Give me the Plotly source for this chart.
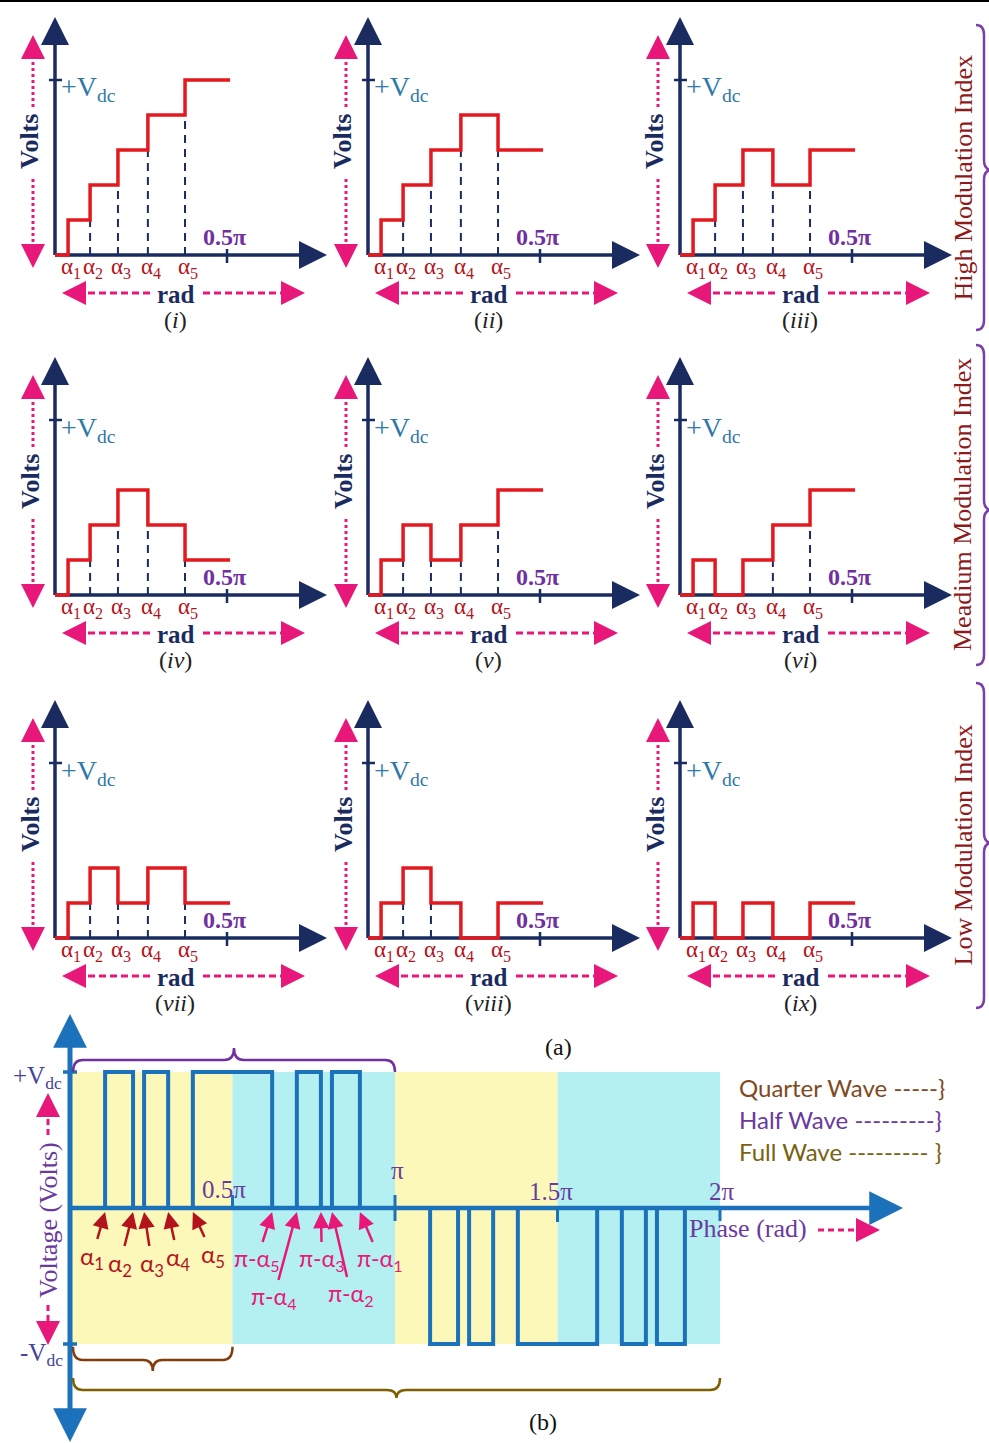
import plotly.graph_objects as go

W, H = 989, 1443

SERIF = "Liberation Serif, Times New Roman, serif"
SANS = "Lato, Open Sans, sans-serif"

NAVY = "#1A2B5F"
RED = "#E3191F"
DARKRED = "#B3141C"
PINK = "#E8187A"
PURPLE = "#7030A0"
STEEL = "#2F78A8"
BLUE = "#1C72BA"
YELLOW = "#FBF8BA"
CYAN = "#B4F0F2"
BAND_RED = "#8E1B1B"
BRACE_PURPLE = "#7A3FA8"

# ---------------- data: staircase panels (a) ----------------
panel_names = ["i", "ii", "iii", "iv", "v", "vi", "vii", "viii", "ix"]
levels_i = [0, 1, 2, 3, 4, 5]
levels_ii = [0, 1, 2, 3, 4, 3]
levels_iii = [0, 1, 2, 3, 2, 3]
levels_iv = [0, 1, 2, 3, 2, 1]
levels_v = [0, 1, 2, 1, 2, 3]
levels_vi = [0, 1, 0, 1, 2, 3]
levels_vii = [0, 1, 2, 1, 2, 1]
levels_viii = [0, 1, 2, 1, 0, 1]
levels_ix = [0, 1, 0, 1, 0, 1]
panel_levels = [levels_i, levels_ii, levels_iii, levels_iv, levels_v,
                levels_vi, levels_vii, levels_viii, levels_ix]
step_alpha = [0.038, 0.102, 0.183, 0.270, 0.378]   # switching angles, units of pi
step_end = 0.509
quarter_tick = 0.5
vdc_level = 5
band_labels = ["High Modulation Index", "Meadium Modulation Index", "Low Modulation Index"]

# ---------------- data: PWM waveform (b) ----------------
pwm_alpha = [0.108, 0.194, 0.228, 0.302, 0.378]    # units of pi
phase_ticks = [0.5, 1.0, 1.5, 2.0]
phase_tick_text = ["0.5π", "π", "1.5π", "2π"]
legend_text = ["Quarter Wave -----}", "Half Wave ---------}", "Full Wave --------- }"]
legend_colors = ["#7F4A1E", "#6A3A9C", "#7A6212"]

# ---------------- helpers ----------------
layout_axes = {}
shapes = []
annots = []
traces = []


def seg(xr, yr, x0, y0, x1, y1, color, width, dash="solid", layer="above"):
    shapes.append(dict(type="line", xref=xr, yref=yr, x0=x0, y0=y0, x1=x1, y1=y1,
                       line=dict(color=color, width=width, dash=dash), layer=layer))


def head(xr, yr, x, y, dxp, dyp, color, width=3, size=1.6):
    annots.append(dict(xref=xr, yref=yr, x=x, y=y, ax=dxp, ay=dyp, text="",
                       showarrow=True, arrowhead=2, arrowsize=size,
                       arrowwidth=width, arrowcolor=color))


def label(xr, yr, x, y, text, size, color, family=SERIF, **kw):
    kw.setdefault("xanchor", "center")
    kw.setdefault("yanchor", "middle")
    annots.append(dict(xref=xr, yref=yr, x=x, y=y, text=text, showarrow=False,
                       font=dict(family=family, size=size, color=color), **kw))


# ---------------- staircase panels ----------------
col_x = [55, 368, 680]
row_y = [255, 595, 938]
SX = 344.0   # pixels per pi
SY = 35.0    # pixels per level

for k, (name, lv) in enumerate(zip(panel_names, panel_levels)):
    r, c = divmod(k, 3)
    ox, oy = col_x[c], row_y[r]
    px0, px1 = ox - 52, ox + 292
    py0, py1 = oy - 250, oy + 78
    sid = "" if k == 0 else str(k + 1)
    xr, yr = "x" + sid, "y" + sid
    layout_axes["xaxis" + sid] = dict(domain=[px0 / W, px1 / W],
                                      range=[(px0 - ox) / SX, (px1 - ox) / SX],
                                      visible=False, fixedrange=True, anchor=yr)
    layout_axes["yaxis" + sid] = dict(domain=[1 - py1 / H, 1 - py0 / H],
                                      range=[(oy - py1) / SY, (oy - py0) / SY],
                                      visible=False, fixedrange=True, anchor=xr)
    px = lambda v: v / SX
    py = lambda v: v / SY

    # axes
    seg(xr, yr, 0, 0, 0, py(222), NAVY, 3.5, layer="below")
    head(xr, yr, 0, py(238), 0, 20, NAVY, 3.5, 1.6)
    seg(xr, yr, 0, 0, px(256), 0, NAVY, 3.5, layer="below")
    head(xr, yr, px(272), 0, -20, 0, NAVY, 3.5, 1.6)

    # +Vdc tick and label
    seg(xr, yr, px(-6), vdc_level, px(7), vdc_level, NAVY, 2.5)
    label(xr, yr, px(4), vdc_level, "+V<sub>dc</sub>", 28, STEEL,
          xanchor="left", yshift=-9)

    # 0.5 pi tick and label
    seg(xr, yr, quarter_tick, py(-8), quarter_tick, py(6), NAVY, 2.5)
    label(xr, yr, quarter_tick - px(3), py(18), "<b>0.5π</b>", 24, PURPLE)

    # dashed guides under each step edge
    for i in range(1, 5):
        h = min(lv[i], lv[i + 1])
        if h > 0:
            seg(xr, yr, step_alpha[i], 0, step_alpha[i], h, NAVY, 2,
                dash="8px,6px", layer="below")

    # staircase
    xs = [0.0] + step_alpha + [step_end]
    ys = lv + [lv[-1]]
    traces.append(go.Scatter(x=xs, y=ys, xaxis=xr, yaxis=yr, mode="lines",
                             line=dict(shape="hv", color=RED, width=3.5),
                             hoverinfo="skip", showlegend=False))

    # alpha labels
    for i, a in enumerate(step_alpha):
        label(xr, yr, a, py(-13), f"α<sub>{i + 1}</sub>", 23, DARKRED, xshift=3)

    # rad label with dashed arrows
    label(xr, yr, px(121), py(-39), "<b>rad</b>", 25, NAVY)
    seg(xr, yr, px(95), py(-38), px(18), py(-38), PINK, 3, dash="7px,4px")
    head(xr, yr, px(7), py(-38), 14, 0, PINK, 3, 1.6)
    seg(xr, yr, px(148), py(-38), px(240), py(-38), PINK, 3, dash="7px,4px")
    head(xr, yr, px(250), py(-38), -14, 0, PINK, 3, 1.6)

    # Volts label with dotted arrows
    label(xr, yr, px(-25), py(113), "<b>Volts</b>", 26, NAVY, textangle=-90)
    seg(xr, yr, px(-22), py(148), px(-22), py(208), PINK, 3, dash="dot")
    head(xr, yr, px(-22), py(220), 0, 14, PINK, 3, 1.6)
    seg(xr, yr, px(-22), py(76), px(-22), py(-2), PINK, 3, dash="dot")
    head(xr, yr, px(-22), py(-13), 0, -14, PINK, 3, 1.6)

    # panel caption
    label(xr, yr, px(120), py(-65), f"(<i>{name}</i>)", 24, "#222222")

# ---------------- modulation-index bands on the right ----------------
band_spans = [(25, 330, 170), (345, 665, 510), (683, 1008, 843)]
for text, (y0, y1, ym) in zip(band_labels, band_spans):
    annots.append(dict(xref="paper", yref="paper", x=963 / W, y=1 - (y0 + y1) / 2 / H,
                       xanchor="center", yanchor="middle",
                       text=text, showarrow=False, textangle=-90,
                       font=dict(family=SERIF, size=26, color=BAND_RED)))
    xe, xb, xt = 976 / W, 984 / W, 992 / W
    Y = lambda v: 1 - v / H
    rr = 10
    path = (f"M {xe},{Y(y0)} Q {xb},{Y(y0)} {xb},{Y(y0 + rr)} "
            f"L {xb},{Y(ym - rr)} Q {xb},{Y(ym)} {xt},{Y(ym)} "
            f"Q {xb},{Y(ym)} {xb},{Y(ym + rr)} L {xb},{Y(y1 - rr)} "
            f"Q {xb},{Y(y1)} {xe},{Y(y1)}")
    shapes.append(dict(type="path", xref="paper", yref="paper", path=path,
                       line=dict(color=BRACE_PURPLE, width=2.5)))

# ---------------- PWM waveform panel (b) ----------------
OXB, OYB = 70, 1208
SXB, SYB = 325.0, 136.0
bx, by = "x10", "y10"
layout_axes["xaxis10"] = dict(domain=[0, 1], range=[-OXB / SXB, (W - OXB) / SXB],
                              visible=False, fixedrange=True, anchor=by)
layout_axes["yaxis10"] = dict(domain=[0, 1 - 1010 / H],
                              range=[(OYB - H) / SYB, (OYB - 1010) / SYB],
                              visible=False, fixedrange=True, anchor=bx)
qx = lambda v: v / SXB
qy = lambda v: v / SYB

# quarter-period shading
for i in range(4):
    shapes.append(dict(type="rect", xref=bx, yref=by, x0=0.5 * i, x1=0.5 * (i + 1),
                       y0=-1, y1=1, fillcolor=YELLOW if i % 2 == 0 else CYAN,
                       line=dict(width=0), layer="below"))

# axes
seg(bx, by, 0, qy(-218), 0, qy(180), BLUE, 5, layer="below")
head(bx, by, 0, qy(194), 0, 20, BLUE, 4.5, 1.5)
head(bx, by, 0, qy(-234), 0, -20, BLUE, 4.5, 1.5)
seg(bx, by, 0, 0, qx(815), 0, BLUE, 4.5, layer="below")
head(bx, by, qx(833), 0, -22, 0, BLUE, 4.5, 1.5)
for yv in (1, -1):
    seg(bx, by, qx(-7), yv, qx(7), yv, BLUE, 3.5)

# phase ticks
tick_ext = [(0, 13), (-13, 13), (-14, 0), (-13, 0)]
tick_lbl_y = [19, 38, 17, 17]
tick_lbl_dx = [-9, 2, -7, 2]
for t, txt, (e0, e1), ly, ldx in zip(phase_ticks, phase_tick_text, tick_ext,
                                      tick_lbl_y, tick_lbl_dx):
    seg(bx, by, t, qy(e0), t, qy(e1), BLUE, 3)
    label(bx, by, t + qx(ldx), qy(ly), txt, 25, "#6A3A9C")

# waveform: quarter-wave symmetric switching pattern
half_edges = pwm_alpha + [1 - a for a in reversed(pwm_alpha)]
wx, wy = [0.0], [0]
for i, e in enumerate(half_edges):
    wx.append(e)
    wy.append(1 if i % 2 == 0 else 0)
for i, e in enumerate(half_edges):
    wx.append(1 + e)
    wy.append(-1 if i % 2 == 0 else 0)
wx.append(2.0)
wy.append(0)
traces.append(go.Scatter(x=wx, y=wy, xaxis=bx, yaxis=by, mode="lines",
                         line=dict(shape="hv", color=BLUE, width=4),
                         hoverinfo="skip", showlegend=False))

# switching-angle callouts
alpha_off = [(-13, 45), (-13, 52), (8, 52), (10, 46), (20, 43)]
for i, (a, (dxp, dyp)) in enumerate(zip(pwm_alpha, alpha_off)):
    annots.append(dict(xref=bx, yref=by, x=a, y=qy(-4), ax=dxp, ay=dyp,
                       text=f"α<sub>{i + 1}</sub>", showarrow=True, arrowhead=2,
                       arrowsize=1.3, arrowwidth=2.5, arrowcolor=DARKRED,
                       font=dict(family=SANS, size=24, color=DARKRED)))
mirror_off = [(-15, 47), (-23, 85), (1, 47), (19, 82), (20, 47)]
for j, (dxp, dyp) in enumerate(mirror_off):
    idx = 4 - j
    annots.append(dict(xref=bx, yref=by, x=1 - pwm_alpha[idx], y=qy(-4), ax=dxp, ay=dyp,
                       text=f"π-α<sub>{idx + 1}</sub>", showarrow=True, arrowhead=2,
                       arrowsize=1.3, arrowwidth=2.5, arrowcolor=PINK,
                       font=dict(family=SANS, size=23, color=PINK)))

# +Vdc / -Vdc labels
label(bx, by, qx(-33), 1 + qy(-5), "+V<sub>dc</sub>", 25, "#44449A")
label(bx, by, qx(-29), -1 + qy(-10), "-V<sub>dc</sub>", 25, "#44449A")

# vertical axis title with dashed arrows
label(bx, by, qx(-22), qy(-12), "Voltage (Volts)", 26, "#6A3A9C", textangle=-90)
seg(bx, by, qx(-22), qy(73), qx(-22), qy(104), PINK, 3, dash="6px,4px")
head(bx, by, qx(-22), qy(115), 0, 14, PINK, 3, 1.6)
seg(bx, by, qx(-22), qy(-97), qx(-22), qy(-125), PINK, 3, dash="6px,4px")
head(bx, by, qx(-22), qy(-137), 0, -14, PINK, 3, 1.6)

# horizontal axis title with dashed arrow
label(bx, by, qx(678), qy(-20), "Phase (rad)", 26, "#6A3A9C")
seg(bx, by, qx(748), qy(-22), qx(798), qy(-22), PINK, 3, dash="6px,4px")
head(bx, by, qx(810), qy(-22), -14, 0, PINK, 3, 1.6)

# symmetry braces
def hbrace(x0, x1, ye, yb, yt, color, rr=0.03):
    xm = (x0 + x1) / 2
    path = (f"M {x0},{ye} Q {x0},{yb} {x0 + rr},{yb} L {xm - rr},{yb} "
            f"Q {xm},{yb} {xm},{yt} Q {xm},{yb} {xm + rr},{yb} "
            f"L {x1 - rr},{yb} Q {x1},{yb} {x1},{ye}")
    shapes.append(dict(type="path", xref=bx, yref=by, path=path,
                       line=dict(color=color, width=2.5)))


hbrace(qx(3), 1.0, 1.0, qy(148), qy(160), PURPLE)
hbrace(qx(3), 0.5, -1.02, qy(-152), qy(-163), "#843C0C")
hbrace(qx(3), 2.0, qy(-170), qy(-182), qy(-190), "#7F6000")

# legend text
for i, (txt, col) in enumerate(zip(legend_text, legend_colors)):
    label(bx, by, qx(667), qy(121 - 32 * i), txt, 24, col, family=SANS, xanchor="left")

# figure captions
annots.append(dict(xref="paper", yref="paper", x=558 / W, y=1 - 1047 / H, text="(a)",
                   xanchor="center", yanchor="middle", showarrow=False,
                   font=dict(family=SERIF, size=24, color="#111111")))
annots.append(dict(xref="paper", yref="paper", x=543 / W, y=1 - 1422 / H, text="(b)",
                   xanchor="center", yanchor="middle", showarrow=False,
                   font=dict(family=SERIF, size=24, color="#111111")))

# top rule
shapes.append(dict(type="line", xref="paper", yref="paper", x0=0, x1=1,
                   y0=1 - 1 / H, y1=1 - 1 / H, line=dict(color="#000000", width=2)))

fig = go.Figure(data=traces)
fig.update_layout(width=W, height=H, margin=dict(l=0, r=0, t=0, b=0),
                  paper_bgcolor="white", plot_bgcolor="rgba(0,0,0,0)",
                  showlegend=False, shapes=shapes, annotations=annots, **layout_axes)
fig.write_html("out.html")
